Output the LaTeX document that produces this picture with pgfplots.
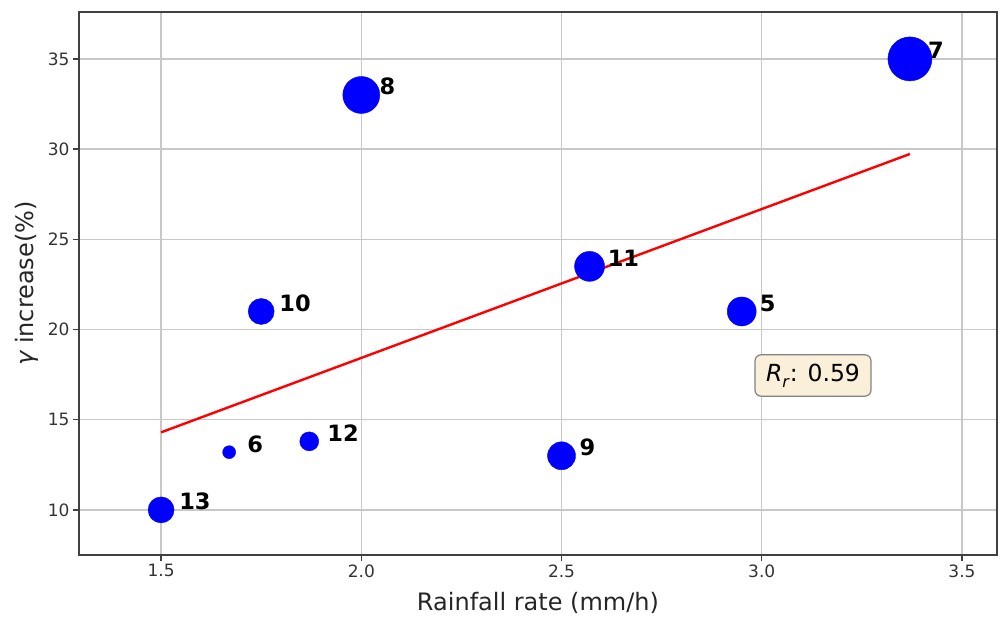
\documentclass[border=0pt]{standalone}
\usepackage{fontspec}
\setmainfont{DejaVu Sans}
\usepackage{pgfplots}
\pgfplotsset{compat=1.18}
\usepackage{pgfplotstable}

\pgfplotstableread{
x y r lab
1.50 10.0 13 13
1.67 13.2 6.5 6
1.75 21.0 13 10
1.87 13.8 9.5 12
2.00 33.0 18.5 8
2.50 13.0 14 9
2.57 23.5 15 11
2.95 21.0 14.5 5
3.37 35.0 22 7
}\pts

\pgfplotstableread{
x y
1.50 14.30
3.37 29.73
}\fit

\definecolor{gridc}{RGB}{200,200,200}
\definecolor{boxfill}{RGB}{250,239,217}
\definecolor{boxedge}{RGB}{130,130,130}

\begin{document}
\begin{tikzpicture}
\path[use as bounding box] (-79pt,-64pt) rectangle (922pt,555pt);
\begin{axis}[
  scale only axis,
  width=918pt, height=543pt,
  xmin=1.295, xmax=3.5875,
  ymin=7.5, ymax=37.6,
  xtick={1.5,2.0,2.5,3.0,3.5},
  ytick={10,15,20,25,30,35},
  xticklabel style={/pgf/number format/fixed, /pgf/number format/fixed zerofill, /pgf/number format/precision=1},
  /pgf/number format/assume math mode=true,
  tick label style={font=\fontsize{17}{17}\selectfont, text=black!80},
  grid=major,
  major grid style={draw=gridc, line width=1.3pt},
  axis line style={draw=black!75, line width=1.5pt},
  tick align=outside,
  major tick length=6pt,
  tick style={draw=black!75, line width=1.3pt},
  xtick pos=bottom, ytick pos=left,
  xlabel={Rainfall rate (mm/h)},
  ylabel={{\itshape γ} increase(\%)},
  label style={font=\fontsize{24}{24}\selectfont, text=black!85},
  xlabel style={at={(axis description cs:0.5,-0.0884)}, anchor=center},
  ylabel style={at={(axis description cs:-0.0566,0.5)}, anchor=center},
  clip=false,
]
% labels (drawn beneath markers)
\addplot[only marks, mark=none, nodes near coords, point meta=explicit symbolic,
  every node near coord/.append style={anchor=base west, inner sep=0pt, xshift=18pt,
    font=\bfseries\fontsize{22.5}{22.5}\selectfont, text=black}]
  table[x=x, y=y, meta=lab] {\pts};
% markers
\addplot[scatter, only marks, mark=*,
  scatter/use mapped color={draw=blue, fill=blue},
  visualization depends on={\thisrow{r} \as \rad},
  scatter/@pre marker code/.append style={/tikz/mark size=\rad pt},
  mark options={line width=0.4pt}]
  table[x=x, y=y, meta=r] {\pts};
% fit line
\addplot[red, line width=2.4pt, no marks] table[x=x, y=y] {\fit};
\node[draw=boxedge, fill=boxfill, rounded corners=6pt, line width=1.2pt,
  inner xsep=11pt, inner ysep=9pt, font=\fontsize{23.5}{23.5}\selectfont]
  at (axis cs:3.128,17.45) {\textit{R}\raisebox{-0.25em}{\fontsize{16}{16}\selectfont\textit{r}}: 0.59};
\end{axis}
\end{tikzpicture}
\end{document}
